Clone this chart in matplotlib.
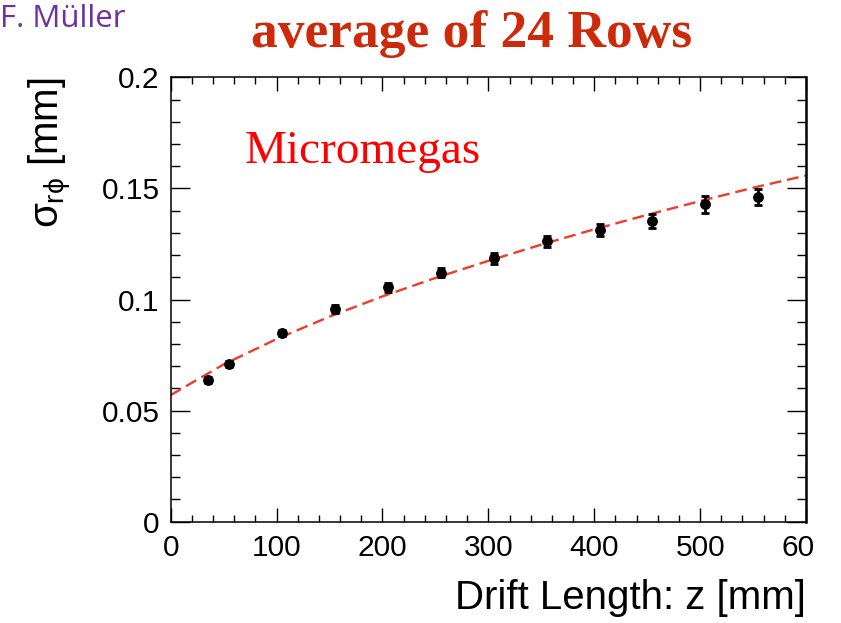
import matplotlib
matplotlib.use('Agg')
import matplotlib.pyplot as plt
from matplotlib.ticker import MultipleLocator
from matplotlib.transforms import Bbox, TransformedBbox

plt.rcParams['font.family'] = ['Liberation Sans', 'DejaVu Sans']
plt.rcParams['mathtext.fontset'] = 'custom'
plt.rcParams['mathtext.rm'] = 'Liberation Sans'
plt.rcParams['mathtext.it'] = 'Liberation Sans'
plt.rcParams['mathtext.sf'] = 'Liberation Sans'

# measured resolution vs drift length
z = [35, 55, 105, 155, 205, 255, 305, 355, 405, 455, 505, 555]
sigma = [0.0638, 0.0710, 0.0850, 0.0957, 0.1056, 0.1120, 0.1186, 0.1263,
         0.1313, 0.1353, 0.1428, 0.1462]
sigma_err = [0.0012, 0.0012, 0.0015, 0.0018, 0.0020, 0.0020, 0.0025, 0.0025,
             0.0028, 0.0030, 0.0037, 0.0037]

# fit curve
z_fit = [0, 50, 100, 150, 200, 250, 300, 350, 400, 450, 500, 550, 600]
sigma_fit = [0.0570, 0.0708, 0.0822, 0.0923, 0.1014, 0.1097, 0.1174, 0.1247,
             0.1316, 0.1381, 0.1443, 0.1503, 0.1558]

x_ticks = [0, 100, 200, 300, 400, 500, 600]
y_ticks = [0, 0.05, 0.1, 0.15, 0.2]
y_tick_labels = ['0', '0.05', '0.1', '0.15', '0.2']

fig = plt.figure(figsize=(8.41, 6.23), dpi=100)
ax = fig.add_axes([0.203, 0.1626, 0.7554, 0.7133])

ax.plot(z_fit, sigma_fit, color='#ee3b2b', lw=1.7, dashes=(5, 2.5))
ax.errorbar(z, sigma, yerr=sigma_err, fmt='o', color='black', ms=6.8,
            elinewidth=2.0, capsize=3.0, capthick=2.0)

ax.set_xlim(0, 600)
ax.set_ylim(0, 0.2)
ax.set_xticks(x_ticks, [str(v) for v in x_ticks])
ax.set_yticks(y_ticks, y_tick_labels)
ax.xaxis.set_minor_locator(MultipleLocator(20))
ax.yaxis.set_minor_locator(MultipleLocator(0.01))

ax.tick_params(axis='both', which='both', direction='in', top=True, right=True,
               width=1.0, labelsize=21.5, color='black')
ax.tick_params(axis='x', which='major', length=10, pad=9)
ax.tick_params(axis='x', which='minor', length=5)
ax.tick_params(axis='y', which='major', length=13.5, pad=8)
ax.tick_params(axis='y', which='minor', length=6.5)

for side in ['left', 'top', 'bottom']:
    ax.spines[side].set_linewidth(1.1)
ax.spines['right'].set_linewidth(1.8)

ax.set_xlabel('Drift Length: z [mm]', fontsize=29, loc='right', labelpad=12)
ax.set_ylabel(r'$\sigma_{r\phi}$ [mm]', fontsize=29, loc='top', labelpad=20)

ax.text(70, 0.1614, 'Micromegas', color='#ff0000', fontsize=34,
        family='Liberation Serif', va='baseline', ha='left')

fig.text(0.561, 1 - 47 / 623, 'average of 24 Rows', color='#cc2a0a',
         fontsize=38.5, family='Liberation Serif', weight='bold',
         ha='center', va='baseline')
fig.text(0.0, 1 - 27 / 623, 'F. Müller', color='#7030a0', fontsize=22.5,
         family='Open Sans', ha='left', va='baseline')

# the original picture is cut just after "60" of the last x label
last = ax.xaxis.get_majorticklabels()[-1]
last.set_clip_box(TransformedBbox(Bbox([[0, 0], [813 / 841, 1]]), fig.transFigure))
last.set_clip_on(True)

fig.savefig('out.png', dpi=100)
